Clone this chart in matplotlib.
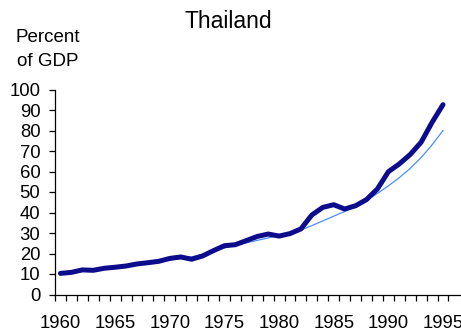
import matplotlib
matplotlib.use("Agg")
import matplotlib.pyplot as plt
import numpy as np

plt.rcParams['font.family'] = ['Liberation Sans', 'DejaVu Sans']

years = list(range(1960, 1996))
actual = [10.3, 10.8, 12.0, 11.8, 12.8, 13.3, 13.9, 14.9, 15.5, 16.2,
          17.6, 18.3, 17.2, 18.8, 21.4, 23.8, 24.3, 26.3, 28.3, 29.5,
          28.5, 29.7, 32.0, 38.8, 42.5, 43.8, 41.7, 43.3, 46.3, 51.5,
          59.9, 63.7, 68.3, 74.3, 84.0, 92.6]
trend = [10.2, 10.8, 11.3, 11.9, 12.5, 13.1, 13.8, 14.5, 15.2, 16.0,
         16.9, 17.6, 18.3, 19.6, 21.1, 22.7, 24.0, 25.2, 26.4, 27.6,
         28.8, 30.1, 31.5, 33.6, 35.9, 38.2, 40.5, 43.0, 45.9, 49.3,
         53.0, 57.0, 61.5, 66.8, 73.0, 80.0]
label_years = [1960, 1965, 1970, 1975, 1980, 1985, 1990, 1995]
yticks = list(range(0, 101, 10))

W, H = 461, 332
fig = plt.figure(figsize=(W / 100, H / 100), dpi=100)
px_per_year = 10.93
left, bottom, top = 55, 294.5, 89.5
ax = fig.add_axes([left / W, (H - bottom) / H, (W - left) / W, (bottom - top) / H])

ax.plot(years, trend, color='#4d8cff', lw=0.9, zorder=2)
ax.plot(years, actual, color='#0c0c8c', lw=3.6, solid_capstyle='round',
        solid_joinstyle='round', zorder=3)

ax.set_xlim(1959.5, 1959.5 + (W - left) / px_per_year)
ax.set_ylim(0, 100)

for s in ['top', 'right']:
    ax.spines[s].set_visible(False)
ax.spines['left'].set_linewidth(0.9)
ax.spines['bottom'].set_linewidth(0.9)

ax.set_yticks(yticks)
ax.set_yticklabels([str(v) for v in yticks])
ax.tick_params(axis='y', direction='out', length=4.5, width=0.9,
               labelsize=13.3, pad=6)

ax.set_xticks([y - 0.5 for y in years] + [years[-1] + 0.5])
ax.set_xticklabels([])
ax.tick_params(axis='x', which='major', direction='out', length=4.5, width=0.9)
ax.set_xticks(label_years, minor=True)
ax.set_xticklabels([str(y) for y in label_years], minor=True)
ax.tick_params(axis='x', which='minor', length=0, labelsize=13.3, pad=15)

fig.text(228 / W, (H - 28) / H, 'Thailand', ha='center', va='baseline', fontsize=16.5)
fig.text(48 / W, (H - 42) / H, 'Percent', ha='center', va='baseline', fontsize=13.5)
fig.text(48 / W, (H - 66) / H, 'of GDP', ha='center', va='baseline', fontsize=13.5)

fig.savefig('out.png', dpi=100)
